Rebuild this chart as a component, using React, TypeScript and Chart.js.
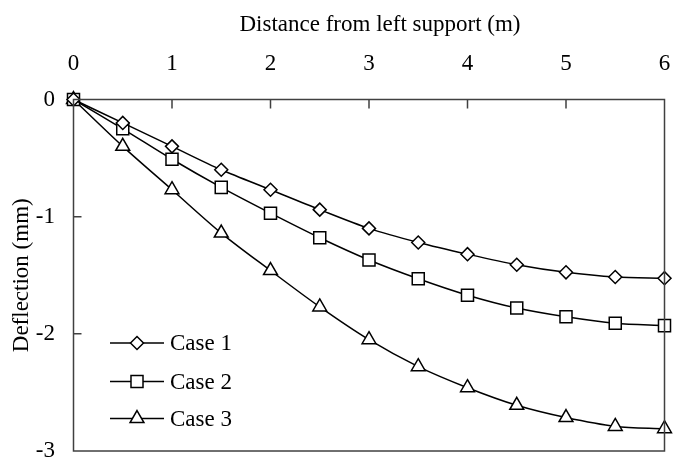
import React, { useEffect, useRef } from "react";
import { Chart, registerables } from "chart.js";

Chart.register(...registerables);

const distances = [0, 0.5, 1, 1.5, 2, 2.5, 3, 3.5, 4, 4.5, 5, 5.5, 6];
const case1 = [0, -0.2, -0.4, -0.6, -0.77, -0.94, -1.1, -1.22, -1.32, -1.41, -1.475, -1.515, -1.525];
const case2 = [0, -0.25, -0.51, -0.75, -0.97, -1.18, -1.37, -1.53, -1.67, -1.78, -1.855, -1.91, -1.93];
const case3 = [0, -0.4, -0.77, -1.14, -1.46, -1.77, -2.05, -2.28, -2.46, -2.61, -2.715, -2.79, -2.81];
const seriesLabels = ["Case 1", "Case 2", "Case 3"];
const seriesStyles = ["rectRot", "rect", "triangle"];
const seriesRadius = [6.5, 8.5, 8];
const xTickValues = [1, 2, 3, 4, 5];
const yTickValues = [-1, -2];
const xTitle = "Distance from left support (m)";
const yTitle = "Deflection (mm)";

const FONT = "'Liberation Serif', 'Times New Roman', serif";

function drawMarker(ctx: CanvasRenderingContext2D, style: string, x: number, y: number, r: number) {
  ctx.beginPath();
  if (style === "rectRot") {
    ctx.moveTo(x, y - r);
    ctx.lineTo(x + r, y);
    ctx.lineTo(x, y + r);
    ctx.lineTo(x - r, y);
    ctx.closePath();
  } else if (style === "rect") {
    const s = Math.SQRT1_2 * r;
    ctx.rect(x - s, y - s, 2 * s, 2 * s);
  } else {
    const h = r * 1.5;
    const w = r * Math.sqrt(3) / 2;
    ctx.moveTo(x, y - r);
    ctx.lineTo(x + w, y + h - r);
    ctx.lineTo(x - w, y + h - r);
    ctx.closePath();
  }
  ctx.fill();
  ctx.stroke();
}

const framePlugin = {
  id: "frameAndLegend",
  afterDraw(chart: any) {
    const { ctx, chartArea } = chart;
    const xs = chart.scales.x;
    const ys = chart.scales.y;
    ctx.save();
    ctx.strokeStyle = "#404040";
    ctx.lineWidth = 1.5;
    ctx.strokeRect(chartArea.left, chartArea.top, chartArea.right - chartArea.left, chartArea.bottom - chartArea.top);
    ctx.beginPath();
    for (const v of xTickValues) {
      const px = xs.getPixelForValue(v);
      ctx.moveTo(px, chartArea.top);
      ctx.lineTo(px, chartArea.top + 9);
    }
    for (const v of yTickValues) {
      const py = ys.getPixelForValue(v);
      ctx.moveTo(chartArea.left, py);
      ctx.lineTo(chartArea.left + 8, py);
    }
    ctx.stroke();

    // x axis title (slightly right of the plot centre, as in the reference)
    ctx.fillStyle = "#000";
    ctx.font = `23px ${FONT}`;
    ctx.textAlign = "center";
    ctx.textBaseline = "middle";
    ctx.fillText(xTitle, 380, 25);

    // legend
    const legendY = [343, 381.5, 418.5];
    chart.data.datasets.forEach((ds: any, i: number) => {
      const y = legendY[i];
      ctx.strokeStyle = "#000";
      ctx.lineWidth = 1.5;
      ctx.beginPath();
      ctx.moveTo(110, y);
      ctx.lineTo(164, y);
      ctx.stroke();
      ctx.fillStyle = "#fff";
      drawMarker(ctx, seriesStyles[i], 137, y, seriesRadius[i]);
      ctx.fillStyle = "#000";
      ctx.font = `23px ${FONT}`;
      ctx.textBaseline = "middle";
      ctx.textAlign = "left";
      ctx.fillText(ds.label, 170, y + 1);
    });
    ctx.restore();
  },
};

export default function App() {
  const canvasRef = useRef<HTMLCanvasElement>(null);

  useEffect(() => {
    const canvas = canvasRef.current;
    if (!canvas) return;
    const allSeries = [case1, case2, case3];
    const chart = new Chart(canvas, {
      type: "line",
      data: {
        datasets: allSeries.map((vals, i) => ({
          label: seriesLabels[i],
          data: distances.map((d, j) => ({ x: d, y: vals[j] })),
          borderColor: "#000",
          borderWidth: 1.5,
          backgroundColor: "#fff",
          pointStyle: seriesStyles[i] as any,
          pointRadius: seriesRadius[i],
          pointBorderWidth: 1.5,
          pointBackgroundColor: "#fff",
          pointBorderColor: "#000",
          tension: 0.3,
          clip: false as any,
          fill: false,
        })),
      },
      options: {
        animation: false,
        responsive: false,
        devicePixelRatio: 1,
        layout: { padding: { left: 0, top: 0, right: 15.5, bottom: 7 } },
        plugins: { legend: { display: false }, tooltip: { enabled: false } },
        scales: {
          x: {
            type: "linear",
            position: "top",
            min: 0,
            max: 6,
            ticks: { stepSize: 1, color: "#000", font: { family: FONT, size: 23 }, padding: 22 },
            grid: { display: false, drawTicks: false },
            border: { display: false },
            title: { display: false },
            afterFit(scale: any) {
              scale.height = 99.5;
              scale.paddingLeft = 0;
              scale.paddingRight = 0;
            },
          },
          y: {
            type: "linear",
            position: "left",
            min: -3,
            max: 0,
            ticks: { stepSize: 1, color: "#000", font: { family: FONT, size: 23 }, padding: 18.5 },
            grid: { display: false, drawTicks: false },
            border: { display: false },
            title: {
              display: true,
              text: yTitle,
              color: "#000",
              font: { family: FONT, size: 23 },
              padding: { top: 8, bottom: 0 },
            },
            afterFit(scale: any) {
              scale.width = 73.5;
              scale.paddingTop = 0;
              scale.paddingBottom = 0;
            },
          },
        },
      },
      plugins: [framePlugin],
    });
    return () => chart.destroy();
  }, []);

  return (
    <div style={{ position: "absolute", left: 0, top: 0, width: 680, height: 461, background: "#fff" }}>
      <canvas ref={canvasRef} width={680} height={461} />
    </div>
  );
}
